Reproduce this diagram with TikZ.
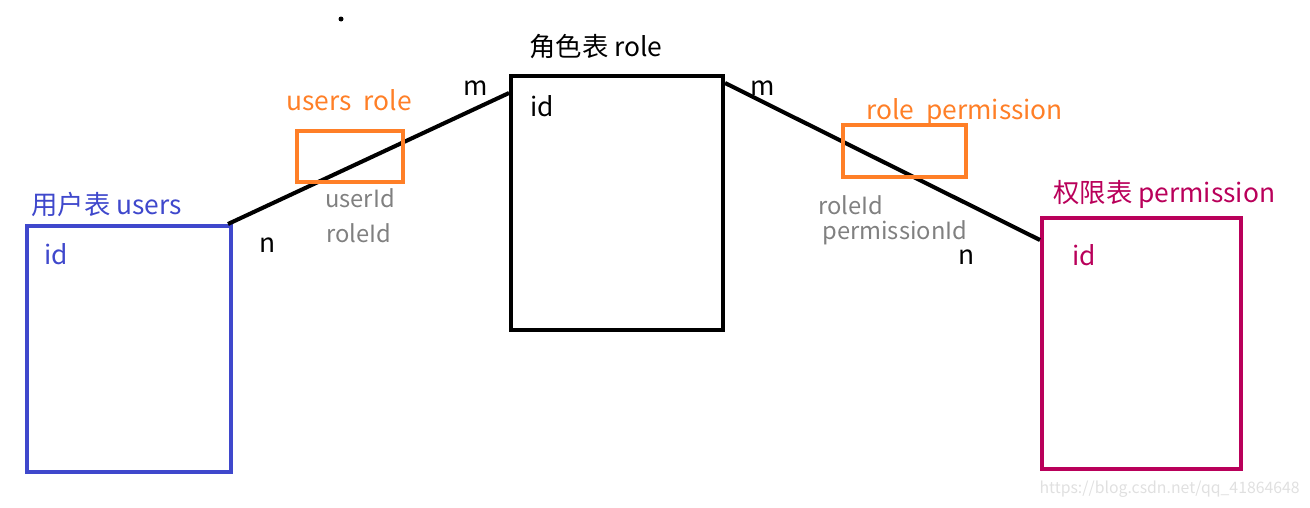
\documentclass[tikz,border=0pt]{standalone}
\usepackage{fontspec}
\setmainfont{Noto Sans CJK SC}
\usetikzlibrary{positioning, calc}
\definecolor{usersblue}{RGB}{63,72,204}
\definecolor{linkorange}{RGB}{255,127,39}
\definecolor{permred}{RGB}{185,0,90}
\definecolor{fieldgray}{RGB}{128,128,128}
\tikzstyle{table} = [rectangle, line width=2.3pt, inner sep=0pt]
\tikzstyle{link} = [rectangle, draw=linkorange, line width=2.3pt, inner sep=0pt]
\tikzstyle{title} = [anchor=west, inner sep=0pt, font=\fontsize{15}{17}\selectfont]
\tikzstyle{field} = [anchor=west, inner sep=0pt, text=fieldgray, font=\fontsize{13.5}{15}\selectfont]
\tikzstyle{card} = [inner sep=0pt, font=\fontsize{15}{17}\selectfont]
\tikzstyle{relation} = [line width=2.3pt, black]

\begin{document}
\begin{tikzpicture}[x=0.02cm, y=-0.02cm]
  \useasboundingbox (0,0) rectangle (1310,507);
  % tables
  \node (users) [table, draw=usersblue, minimum width=4.08cm, minimum height=4.92cm] at (129,349) {};
  \node (role) [table, draw=black, minimum width=4.24cm, minimum height=5.08cm] at (617,203) {};
  \node (perm) [table, draw=permred, minimum width=3.98cm, minimum height=5.02cm] at (1141.5,343.5) {};
  % titles and ids
  \node (userstitle) [title, text=usersblue] at (31,204) {用户表 users};
  \node (usersid) [title, text=usersblue] at (44,254) {id};
  \node (roletitle) [title] at (529,47) {角色表 role};
  \node (roleid) [title] at (530,106) {id};
  \node (permtitle) [title, text=permred] at (1053,194) {权限表 permission};
  \node (permid) [title, text=permred] at (1072,255) {id};
  % relations
  \draw [relation] ([xshift=-0.1cm]users.north east) -- ([yshift=-0.38cm]role.north west);
  \draw [relation] ([yshift=-0.18cm]role.north east) -- ([yshift=-0.48cm]perm.north west);
  % link tables
  \node (usersrole) [link, minimum width=2.12cm, minimum height=1.02cm] at (350,156.5) {};
  \node (roleperm) [link, minimum width=2.46cm, minimum height=1.04cm] at (904.5,151) {};
  \node (usersroletitle) [title, text=linkorange] at (286,100) {users\hspace{0.45em}role};
  \node (rolepermtitle) [title, text=linkorange] at (866,112) {role\hspace{0.45em}permission};
  \node (f1) [field] at (325,198) {userId};
  \node (f2) [field] at (326,233) {roleId};
  \node (f3) [field] at (818,205) {roleId};
  \node (f4) [field] at (822,233) {permissionId};
  % cardinalities
  \node (n1) [card] at (268,245) {n};
  \node (m1) [card] at (476,88) {m};
  \node (m2) [card] at (763,88) {m};
  \node (n2) [card] at (967,257) {n};
  % stray dot and watermark
  \fill (341,19) circle (0.05cm);
  \node (mark) [anchor=east, inner sep=0pt, text=black!12, font=\fontsize{9}{10}\selectfont] at (1300,489) {https://blog.csdn.net/qq\_41864648};
\end{tikzpicture}
\end{document}
